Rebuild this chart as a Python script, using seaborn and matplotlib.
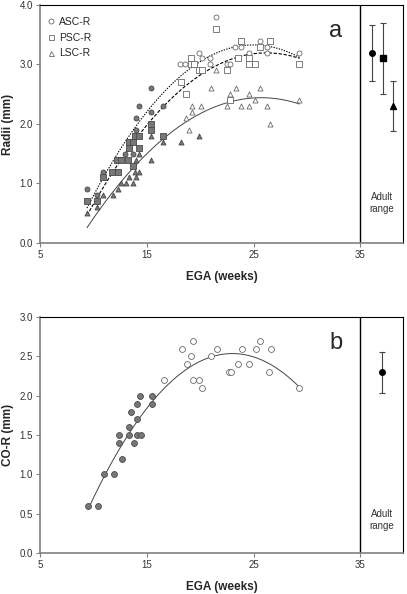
import numpy as np
import pandas as pd
import matplotlib
matplotlib.use("Agg")
import matplotlib.pyplot as plt
from matplotlib.lines import Line2D
import seaborn as sns

# ---- panel a : semicircular canal radii (mm) vs EGA (weeks)
# gray = early fetal, open = later fetal
asc_x_early = [9.4, 10.3, 10.9, 11.8, 12.4, 13.0, 13.7, 13.3, 14.0, 14.0, 14.3, 15.4, 15.4, 16.5]
asc_y_early = [0.9, 0.8, 1.2, 1.2, 1.4, 1.5, 1.5, 1.7, 1.9, 2.1, 2.3, 2.2, 2.6, 2.3]
asc_x_late = [18.1, 18.6, 19.9, 20.2, 20.9, 20.9, 21.5, 22.5, 22.8, 23.3, 23.8, 24.6, 25.6, 26.3, 26.3, 29.3]
asc_y_late = [3.0, 3.0, 3.2, 3.1, 3.1, 3.0, 3.8, 3.0, 3.0, 3.3, 3.3, 3.2, 3.4, 3.3, 3.2, 3.2]

psc_x_early = [9.4, 10.3, 10.9, 11.7, 12.3, 12.2, 12.6, 13.2, 13.7, 13.3, 14.3, 13.3, 13.7, 13.9, 14.3, 15.4, 15.4, 16.5]
psc_y_early = [0.7, 0.7, 1.1, 1.2, 1.2, 1.4, 1.4, 1.4, 1.3, 1.6, 1.6, 1.7, 1.7, 1.8, 1.8, 1.9, 2.0, 1.8]
psc_x_late = [18.2, 18.7, 19.1, 19.1, 19.4, 19.9, 20.2, 21.5, 22.5, 22.8, 23.5, 23.8, 24.6, 24.6, 25.1, 25.6, 26.5, 29.3]
psc_y_late = [2.7, 2.5, 3.0, 3.1, 3.0, 2.9, 2.9, 3.6, 2.9, 2.4, 3.1, 3.4, 3.1, 3.0, 3.0, 3.3, 3.4, 3.0]

lsc_x_early = [9.4, 10.3, 10.9, 11.8, 12.3, 12.6, 13.1, 13.7, 13.3, 14.0, 13.9, 14.3, 14.0, 14.3, 15.4, 15.4, 16.5, 18.2, 19.9]
lsc_y_early = [0.5, 0.6, 0.8, 0.8, 0.9, 1.0, 1.0, 1.0, 1.1, 1.1, 1.2, 1.2, 1.4, 1.5, 1.4, 1.8, 1.7, 1.7, 1.8]
lsc_x_late = [18.7, 19.0, 19.2, 19.2, 20.1, 21.0, 21.5, 22.5, 22.8, 23.4, 23.8, 24.6, 24.6, 25.1, 25.6, 26.3, 26.5, 29.3]
lsc_y_late = [2.1, 1.9, 2.2, 2.3, 2.3, 2.6, 2.9, 2.3, 2.5, 2.6, 2.3, 2.3, 2.5, 2.4, 2.6, 2.3, 2.0, 2.4]

# adult range (mean, sd) for ASC, PSC, LSC
adult_x_a = [36.1, 37.1, 38.1]
adult_mean_a = [3.2, 3.1, 2.3]
adult_sd_a = [0.47, 0.6, 0.42]

# ---- panel b : common crus radius (mm)
cor_x_early = [9.5, 10.4, 11.0, 11.9, 12.7, 12.4, 13.8, 12.4, 13.3, 14.1, 14.5, 13.3, 14.1, 13.5, 14.1, 15.5, 14.4, 15.5]
cor_y_early = [0.6, 0.6, 1.0, 1.0, 1.2, 1.4, 1.4, 1.5, 1.5, 1.5, 1.5, 1.6, 1.7, 1.8, 1.9, 1.9, 2.0, 2.0]
cor_x_late = [16.6, 18.3, 19.3, 19.1, 18.8, 19.3, 19.9, 20.2, 21.0, 21.6, 22.7, 22.9, 23.5, 23.9, 24.6, 25.2, 25.6, 26.6, 26.4, 29.3]
cor_y_late = [2.2, 2.6, 2.7, 2.5, 2.4, 2.2, 2.2, 2.1, 2.5, 2.6, 2.3, 2.3, 2.4, 2.6, 2.4, 2.6, 2.7, 2.6, 2.3, 2.1]

adult_x_b = [37.0]
adult_mean_b = [2.3]
adult_sd_b = [0.26]

sns.set_theme(style="ticks")
plt.rcParams['font.family'] = ['Liberation Sans', 'DejaVu Sans']

GRAY_FILL = "#777777"
GRAY_EDGE = "#4a4a4a"
OPEN_EDGE = "#6a6a6a"
AXIS_GRAY = "#808080"

fig = plt.figure(figsize=(4.07, 5.94), dpi=100)
ax_a = fig.add_axes([0.0983, 0.591, 0.892, 0.4007])
ax_b = fig.add_axes([0.0983, 0.069, 0.892, 0.397])


def draw_points(ax, xe, ye, xl, yl, marker, s=13):
    sns.scatterplot(x=xe, y=ye, marker=marker, s=s, color=GRAY_FILL,
                    edgecolor=GRAY_EDGE, linewidth=0.6, ax=ax, zorder=3)
    sns.scatterplot(x=xl, y=yl, marker=marker, s=s, color="white",
                    edgecolor=OPEN_EDGE, linewidth=0.6, ax=ax, zorder=3)


def draw_fit(ax, xe, ye, xl, yl, ls, color="black", lw=0.8):
    x = np.array(xe + xl)
    y = np.array(ye + yl)
    coef = np.polyfit(x, y, 2)
    xs = np.linspace(x.min(), x.max(), 200)
    ax.plot(xs, np.polyval(coef, xs), ls=ls, color=color, lw=lw, zorder=2)


def style_axes(ax, ymax, ystep, ylabel):
    ax.set_xlim(5, 39)
    ax.set_ylim(0, ymax)
    ax.set_xticks([5, 15, 25, 35])
    ax.set_yticks(np.arange(0, ymax + 0.001, ystep))
    ax.yaxis.set_major_formatter(matplotlib.ticker.FormatStrFormatter('%.1f'))
    for side in ['left', 'bottom']:
        ax.spines[side].set_color(AXIS_GRAY)
        ax.spines[side].set_linewidth(1.2)
    for side in ['top', 'right']:
        ax.spines[side].set_visible(True)
        ax.spines[side].set_color("black")
        ax.spines[side].set_linewidth(0.8)
    ax.tick_params(axis='both', labelsize=7, colors="#333333", length=3,
                   width=0.8, color=AXIS_GRAY, pad=2)
    ax.set_xlabel("EGA (weeks)", fontsize=8.5, fontweight='bold', labelpad=8)
    ax.set_ylabel(ylabel, fontsize=8.5, fontweight='bold', labelpad=4)
    ax.axvline(35, color="black", lw=1.0, zorder=1)


# panel a
draw_points(ax_a, asc_x_early, asc_y_early, asc_x_late, asc_y_late, "o")
draw_points(ax_a, psc_x_early, psc_y_early, psc_x_late, psc_y_late, "s")
draw_points(ax_a, lsc_x_early, lsc_y_early, lsc_x_late, lsc_y_late, "^")
draw_fit(ax_a, asc_x_early, asc_y_early, asc_x_late, asc_y_late, (0, (1.2, 1.2)))
draw_fit(ax_a, psc_x_early, psc_y_early, psc_x_late, psc_y_late, (0, (3, 1.5)))
draw_fit(ax_a, lsc_x_early, lsc_y_early, lsc_x_late, lsc_y_late, "-", color="#444444", lw=0.7)

for xv, m, sd, mk in zip(adult_x_a, adult_mean_a, adult_sd_a, ["o", "s", "^"]):
    ax_a.errorbar(xv, m, yerr=sd, fmt=mk, color="black", ms=4, ecolor="#444444",
                  elinewidth=0.8, capsize=2, capthick=0.8, zorder=4)

style_axes(ax_a, 4.0, 1.0, "Radii (mm)")
ax_a.text(32.7, 3.56, "a", fontsize=17, ha='center', va='center', fontweight='light')
ax_a.text(37.0, 0.67, "Adult\nrange", fontsize=7, ha='center', va='center',
          color="#333333", linespacing=1.3)

handles = [Line2D([], [], ls='none', marker=m, ms=3.6, mfc='white', mec=OPEN_EDGE, mew=0.6)
           for m in ["o", "s", "^"]]
ax_a.legend(handles, ["ASC-R", "PSC-R", "LSC-R"], loc='upper left', frameon=False,
            fontsize=7.5, handlelength=0.6, handletextpad=0.4, labelspacing=0.55,
            borderaxespad=0.4, bbox_to_anchor=(0.0, 0.985))

# panel b
draw_points(ax_b, cor_x_early, cor_y_early, cor_x_late, cor_y_late, "o", s=18)
draw_fit(ax_b, cor_x_early, cor_y_early, cor_x_late, cor_y_late, "-", color="#444444", lw=0.7)
ax_b.errorbar(adult_x_b, adult_mean_b, yerr=adult_sd_b, fmt="o", color="black", ms=4,
              ecolor="#444444", elinewidth=0.8, capsize=2, capthick=0.8, zorder=4)

style_axes(ax_b, 3.0, 0.5, "CO-R (mm)")
ax_b.text(32.7, 2.67, "b", fontsize=17, ha='center', va='center', fontweight='light')
ax_b.text(37.0, 0.42, "Adult\nrange", fontsize=7, ha='center', va='center',
          color="#333333", linespacing=1.3)

fig.savefig("out.png", dpi=100)
